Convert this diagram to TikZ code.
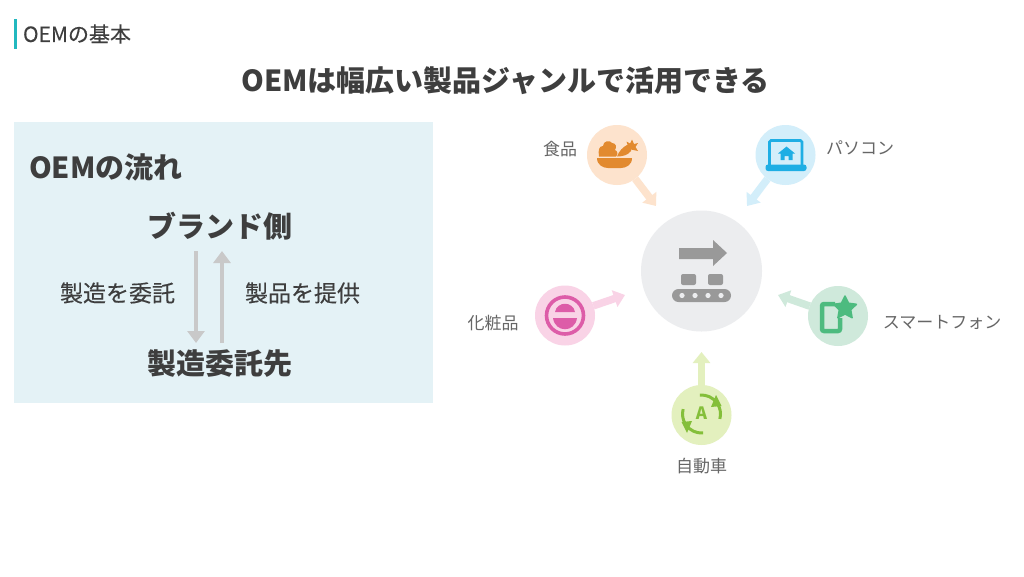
\documentclass[tikz,border=0pt]{standalone}
\usepackage{fontspec}
\setmainfont{Noto Sans CJK JP}
\newfontfamily\medfont[FakeBold=0.25]{Noto Sans CJK JP}
\usetikzlibrary{arrows.meta}
\definecolor{txt}{HTML}{3E3E3E}
\definecolor{lbl}{HTML}{666666}
\definecolor{teal}{HTML}{22B8BF}
\definecolor{panel}{HTML}{E4F2F6}
\definecolor{flowgray}{HTML}{C9C9C9}
\definecolor{hubbg}{HTML}{ECEDEF}
\definecolor{hubic}{HTML}{999999}
\definecolor{foodbg}{HTML}{FDE3CD}
\definecolor{foodic}{HTML}{E28A2F}
\definecolor{pcbg}{HTML}{D3EEFA}
\definecolor{pcic}{HTML}{1EAEE4}
\definecolor{phbg}{HTML}{CFE9DB}
\definecolor{phic}{HTML}{4DBB7F}
\definecolor{carbg}{HTML}{E3F0BE}
\definecolor{caric}{HTML}{84BF3A}
\definecolor{cosbg}{HTML}{F9D3E6}
\definecolor{cosic}{HTML}{DD5CA8}
\tikzset{
 txtnode/.style={inner sep=0pt,outer sep=0pt,text=txt},
 titletext/.style={txtnode,font=\fontsize{#1}{#1}\selectfont\bfseries},
 bodytext/.style={txtnode,font=\medfont\fontsize{23}{25}\selectfont},
 smalltext/.style={inner sep=0pt,outer sep=0pt,text=lbl,font=\fontsize{17}{19}\selectfont},
 bubble/.style={circle,fill=#1,minimum size=60pt,inner sep=0pt,outer sep=0pt},
 spoke/.style={draw=#1,line width=7.5pt,-{Triangle[length=11pt,width=17pt]}},
 flowarrow/.style={draw=flowgray,line width=4.5pt,-{Triangle[length=12pt,width=17pt]}}
}
\begin{document}
\begin{tikzpicture}[x=1pt,y=-1pt]
\useasboundingbox (0,0) rectangle (1024,576);
\fill[white] (0,0) rectangle (1024,576);
% header
\fill[teal] (14,19) rectangle (17,49);
\node[txtnode,anchor=west,font=\medfont\fontsize{21}{23}\selectfont] (head) at (23,34) {OEMの基本};
\node[titletext=29] (title) at (505.5,80.5) {OEMは幅広い製品ジャンルで活用できる};
% panel
\node[fill=panel,minimum width=419pt,minimum height=281pt,inner sep=0pt,outer sep=0pt] (panel) at (223.5,262.5) {};
\node[titletext=29,anchor=west] (flowtitle) at (29,167.5) {OEMの流れ};
\node[titletext=29] (brand) at (220,226) {ブランド側};
\node[titletext=29] (maker) at (220,363.5) {製造委託先};
\node[bodytext] (ask) at (117.5,293) {製造を委託};
\node[bodytext] (give) at (302.5,293) {製品を提供};
\coordinate (d1) at (196,251);
\coordinate (d2) at (196,343);
\coordinate (u1) at (222,343);
\coordinate (u2) at (222,251);
\draw[flowarrow] (d1) -- (d2);
\draw[flowarrow] (u1) -- (u2);
% spokes
\node[circle,fill=hubbg,minimum size=121pt,inner sep=0pt] (hub) at (701.5,271) {};
\node[bubble=foodbg] (food) at (617,155) {};
\node[bubble=pcbg] (pc) at (785.5,155) {};
\node[bubble=phbg] (phone) at (838,316) {};
\node[bubble=carbg] (car) at (701.5,415) {};
\node[bubble=cosbg] (cos) at (565,315.5) {};
\coordinate (foodtip) at (656,206);
\coordinate (pctip) at (747,206);
\coordinate (phonetip) at (778,295);
\coordinate (cartip) at (701.5,352);
\coordinate (costip) at (625,295);
\draw[spoke=foodbg] (food) -- (foodtip);
\draw[spoke=pcbg] (pc) -- (pctip);
\draw[spoke=phbg] (phone) -- (phonetip);
\draw[spoke=carbg] (car) -- (cartip);
\draw[spoke=cosbg] (cos) -- (costip);
% labels
\node[smalltext] (lfood) at (560,149) {食品};
\node[smalltext] (lpc) at (860,148) {パソコン};
\node[smalltext] (lcos) at (493,323.5) {化粧品};
\node[smalltext] (lphone) at (942,322.5) {スマートフォン};
\node[smalltext] (lcar) at (701.5,466) {自動車};
% hub icon
\fill[hubic] (679,248) -- (713,248) -- (713,240) -- (727,253) -- (713,266) -- (713,259) -- (679,259) -- cycle;
\fill[hubic,rounded corners=2pt] (681,274) rectangle (696,285);
\fill[hubic,rounded corners=2pt] (708,274) rectangle (723,285);
\fill[hubic,rounded corners=6.5pt] (672,289) rectangle (731,302);
\foreach \x in {682,695,708,721} \fill[hubbg] (\x,295.5) circle (2.6);
% food icon
\fill[foodic] (597,158) -- (632,158) .. controls (632,165) and (626,168) .. (621,168) -- (608,168) .. controls (603,168) and (597,165) .. (597,158) -- cycle;
\fill[foodic] (599,156.5) .. controls (598,150) and (599,146) .. (603,146) .. controls (603,141) and (610,139.5) .. (612,143) .. controls (616,143) and (617,147) .. (615,150) .. controls (618,151) and (618,155) .. (616,156.5) -- cycle;
\fill[foodic] (617,156.5) .. controls (619,151) and (623,147) .. (627,145) .. controls (630,145) and (632,148) .. (631,151) .. controls (628,155) and (623,156.5) .. (617,156.5) -- cycle;
\fill[foodic] (628,146.5) -- (626.5,141.5) -- (630,143.5) -- (632,139.5) -- (634,144) -- (638,143) -- (635.5,147) -- (638,151) -- (631,149.5) -- cycle;
% laptop icon
\draw[pcic,line width=2.8pt,rounded corners=1.5pt] (769.5,165) -- (769.5,140.5) -- (802,140.5) -- (802,165);
\fill[pcic,rounded corners=2.5pt] (765.5,164.5) rectangle (806.5,171);
\fill[pcic] (786.5,146.5) -- (795,153.5) -- (792.5,153.5) -- (792.5,160) -- (788.5,160) -- (788.5,156) -- (784.5,156) -- (784.5,160) -- (780.5,160) -- (780.5,153.5) -- (778,153.5) -- cycle;
% phone icon
\draw[phic,line width=4.5pt,rounded corners=2pt] (835,304) -- (822,304) -- (822,331) -- (840,331) -- (840,318);
\fill[phic,draw=phic,line width=1.5pt,line join=round] (845,296)  -- (848.6,303.2) -- (856.4,304.3) -- (850.7,309.9) -- (852.1,317.7) -- (845,314) -- (837.9,317.7) -- (839.3,309.9) -- (833.6,304.3) -- (841.4,303.2) -- cycle;
% car icon
\draw[caric,line width=3pt] (701.5,414) ++(85:19) arc (85:195:19);
\draw[caric,line width=3pt] (701.5,414) ++(-95:19) arc (-95:15:19);
\fill[caric] (681.5,422) -- (692,421) -- (687,433) -- cycle;
\fill[caric] (721.5,406) -- (711,407) -- (716,395) -- cycle;
\node[txtnode,text=caric,font=\fontsize{17}{19}\selectfont\bfseries] (carA) at (701.5,413.5) {A};
% cosmetics icon
\draw[cosic,line width=3.6pt] (565,315.5) circle (18.5);
\fill[cosic] (555,312) .. controls (557,301) and (573,301) .. (575,312) -- cycle;
\fill[cosic] (553,318) .. controls (555,333) and (575,333) .. (577,318) -- cycle;
\end{tikzpicture}
\end{document}
